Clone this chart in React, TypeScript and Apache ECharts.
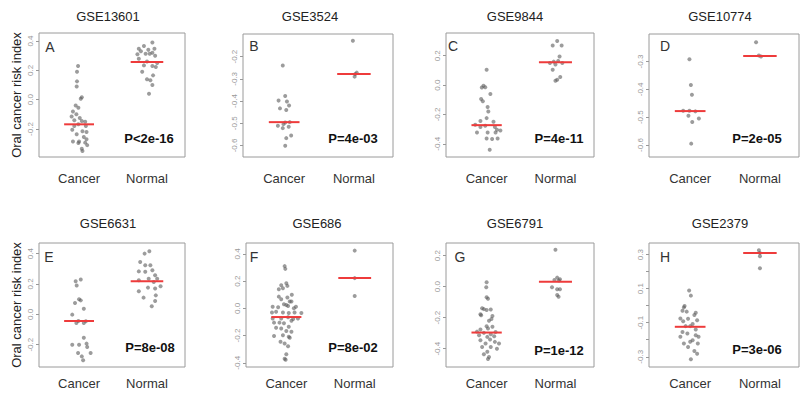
import React, { useEffect, useRef } from 'react';
import * as echarts from 'echarts';

const FONT = '"Liberation Sans", Arial, Helvetica, sans-serif';

const categories = ['Cancer', 'Normal'];
const titles = ['GSE13601', 'GSE3524', 'GSE9844', 'GSE10774', 'GSE6631', 'GSE686', 'GSE6791', 'GSE2379'];
const letters = ['A', 'B', 'C', 'D', 'E', 'F', 'G', 'H'];
const pValues = ['P<2e-16', 'P=4e-03', 'P=4e-11', 'P=2e-05', 'P=8e-08', 'P=8e-02', 'P=1e-12', 'P=3e-06'];

// medians [cancer, normal]
const medians = [
  [-0.168, 0.257],
  [-0.495, -0.278],
  [-0.273, 0.155],
  [-0.478, -0.28],
  [-0.044, 0.218],
  [-0.064, 0.222],
  [-0.296, 0.032],
  [-0.124, 0.309],
];

// y axis ranges [min, max]
const yRanges = [
  [-0.391, 0.455],
  [-0.652, -0.098],
  [-0.49, 0.355],
  [-0.643, -0.201],
  [-0.347, 0.47],
  [-0.431, 0.48],
  [-0.518, 0.281],
  [-0.36, 0.368],
];

const yTicks = [
  [-0.2, 0, 0.2, 0.4],
  [-0.6, -0.5, -0.4, -0.3, -0.2],
  [-0.4, -0.2, 0, 0.2],
  [-0.6, -0.5, -0.4, -0.3],
  [-0.2, 0, 0.2, 0.4],
  [-0.4, -0.2, 0, 0.2, 0.4],
  [-0.4, -0.2, 0, 0.2],
  [-0.3, -0.2, -0.1, 0, 0.1, 0.2, 0.3],
];
const yTickLabels = [
  [-0.2, 0, 0.2, 0.4],
  [-0.6, -0.5, -0.4, -0.3, -0.2],
  [-0.4, -0.2, 0, 0.2],
  [-0.6, -0.5, -0.4, -0.3],
  [-0.2, 0, 0.2, 0.4],
  [-0.4, -0.2, 0, 0.2, 0.4],
  [-0.4, -0.2, 0, 0.2],
  [-0.3, -0.1, 0.1, 0.3],
];

// points: [jitter offset, risk index]
const cancerA = [[-0.015,0.23],[-0.03,0.19],[-0.03,0.125],[-0.035,0.09],[0.04,0.016],[0.025,0.007],[-0.05,-0.04],[-0.01,-0.055],[-0.09,-0.08],[-0.04,-0.1],[-0.11,-0.115],[0.01,-0.125],[-0.07,-0.14],[0.04,-0.145],[0.09,-0.15],[-0.01,-0.168],[-0.07,-0.18],[0.1,-0.18],[-0.1,-0.205],[0.05,-0.215],[0.11,-0.22],[-0.035,-0.236],[0.07,-0.255],[0.11,-0.27],[-0.09,-0.285],[0,-0.285],[0.09,-0.293],[-0.01,-0.295],[0.12,-0.31],[0.04,-0.335],[0.05,-0.35]];
const normalA = [[0.08,0.39],[-0.045,0.366],[-0.12,0.348],[0.02,0.34],[0.11,0.348],[-0.09,0.33],[0.08,0.32],[-0.02,0.314],[-0.14,0.31],[0.04,0.314],[0.12,0.3],[-0.12,0.28],[0,0.26],[0.15,0.25],[-0.045,0.234],[0.08,0.23],[0.13,0.223],[-0.07,0.19],[0.09,0.166],[0,0.14],[0.05,0.132],[0.08,0.1],[0.03,0.04]];
const cancerB = [[-0.02,-0.24],[0.015,-0.377],[-0.08,-0.398],[0.04,-0.402],[0.07,-0.42],[-0.06,-0.433],[0.03,-0.44],[0.015,-0.497],[0.08,-0.495],[-0.01,-0.504],[-0.09,-0.511],[-0.02,-0.522],[0.065,-0.516],[0.1,-0.555],[0.03,-0.567],[0.015,-0.601]];
const normalB = [[-0.015,-0.128],[0.02,-0.278],[0.04,-0.272],[0.01,-0.29]];
const cancerC = [[0,0.105],[-0.045,-0.005],[-0.07,-0.016],[-0.02,-0.014],[0.055,-0.06],[-0.08,-0.095],[-0.055,-0.11],[0.015,-0.15],[0.025,-0.18],[0,-0.225],[-0.09,-0.245],[0.1,-0.25],[-0.165,-0.27],[-0.02,-0.277],[-0.09,-0.286],[0.12,-0.286],[0.15,-0.305],[0.2,-0.31],[-0.14,-0.323],[0.015,-0.323],[0.13,-0.323],[0,-0.364],[0.08,-0.368],[0.16,-0.364],[0.045,-0.44]];
const normalC = [[0.025,0.3],[-0.04,0.27],[0.09,0.27],[0.06,0.195],[0.04,0.165],[-0.025,0.16],[-0.08,0.15],[0.1,0.15],[0,0.14],[-0.04,0.105],[0.07,0.055],[0.025,0.036],[0,0.03]];
const cancerD = [[-0.01,-0.292],[0.01,-0.384],[0.025,-0.419],[-0.1,-0.477],[-0.01,-0.477],[0.075,-0.479],[-0.025,-0.495],[0.125,-0.505],[0.03,-0.517],[0.015,-0.595]];
const normalD = [[-0.055,-0.231],[0.015,-0.282],[-0.015,-0.278]];
const cancerE = [[-0.05,0.218],[0.025,0.229],[-0.035,0.19],[0,0.1],[0.025,0.092],[-0.06,0.075],[0.07,0.037],[-0.1,-0.002],[-0.01,-0.044],[-0.04,-0.057],[0.07,-0.057],[0.1,-0.046],[0.07,-0.154],[-0.1,-0.2],[0,-0.2],[0.11,-0.193],[0.12,-0.215],[-0.015,-0.255],[0.17,-0.255],[0.04,-0.277],[0.06,-0.303]];
const normalE = [[-0.035,0.4],[0.035,0.415],[-0.1,0.345],[0.05,0.323],[-0.025,0.323],[0.08,0.29],[-0.12,0.283],[-0.025,0.28],[0.12,0.257],[0.025,0.235],[-0.12,0.224],[0.15,0.235],[0.1,0.213],[0.2,0.185],[-0.12,0.152],[0.015,0.176],[0.12,0.17],[-0.05,0.11],[0.13,0.125],[0.12,0.088],[0.07,0.053]];
const cancerF = [[-0.025,0.31],[-0.015,0.29],[-0.075,0.17],[0,0.185],[0.015,0.165],[-0.11,0.14],[-0.05,0.148],[0.08,0.1],[-0.11,0.086],[0.015,0.08],[-0.075,0.066],[0.05,0.05],[-0.035,0.03],[0,0.025],[0.075,0.05],[0.14,0.012],[-0.2,0.012],[-0.12,0.008],[0.025,0.017],[0.11,0],[-0.21,-0.03],[-0.15,-0.025],[-0.05,-0.03],[0.035,-0.035],[0.12,-0.03],[0.22,-0.035],[-0.2,-0.074],[-0.075,-0.074],[0.025,-0.066],[0.1,-0.079],[0.17,-0.074],[-0.18,-0.105],[-0.1,-0.105],[-0.035,-0.11],[0.075,-0.091],[-0.15,-0.143],[0.035,-0.135],[-0.075,-0.148],[0.075,-0.172],[0,-0.167],[-0.18,-0.204],[-0.05,-0.197],[0.035,-0.209],[0.05,-0.216],[-0.085,-0.246],[-0.025,-0.258],[0.025,-0.278],[0,-0.338],[-0.025,-0.37],[-0.01,-0.378]];
const normalF = [[0,0.424],[0,0.222],[0,0.091]];
const cancerG = [[0,0.028],[-0.005,-0.004],[0,-0.069],[0.02,-0.078],[-0.065,-0.14],[-0.04,-0.145],[0,-0.151],[0.06,-0.147],[-0.08,-0.184],[-0.09,-0.178],[0.085,-0.19],[0.035,-0.22],[0.07,-0.209],[0,-0.255],[0.085,-0.259],[-0.09,-0.276],[0.02,-0.27],[-0.14,-0.29],[-0.04,-0.298],[0.06,-0.307],[0.13,-0.292],[-0.11,-0.313],[0.01,-0.324],[0.11,-0.32],[0.05,-0.341],[-0.09,-0.346],[0.12,-0.356],[0.18,-0.367],[-0.015,-0.367],[-0.065,-0.389],[0.06,-0.389],[0.15,-0.4],[0.01,-0.42],[-0.04,-0.436],[0.035,-0.454],[0.02,-0.467]];
const normalG = [[0,0.238],[0.025,0.058],[0.065,0.048],[-0.015,0.043],[0.05,0.04],[-0.05,-0.004],[0.025,-0.017],[0.065,-0.017],[0.025,-0.054],[0.045,-0.065]];
const cancerH = [[-0.015,0.089],[0.01,0.059],[-0.08,-0.002],[-0.09,-0.01],[-0.11,-0.03],[-0.05,-0.035],[0.08,-0.041],[0.06,-0.055],[-0.14,-0.075],[-0.03,-0.077],[0.1,-0.085],[-0.1,-0.092],[0.035,-0.108],[-0.065,-0.12],[0,-0.12],[0.08,-0.14],[-0.11,-0.154],[-0.04,-0.163],[0.08,-0.173],[0.12,-0.183],[-0.14,-0.183],[0.035,-0.203],[-0.09,-0.222],[0,-0.212],[0.11,-0.222],[-0.03,-0.242],[0.06,-0.266],[0.1,-0.282],[0.01,-0.315]];
const normalH = [[-0.015,0.325],[0,0.309],[0,0.29],[0,0.22]];

const cancerPoints = [cancerA, cancerB, cancerC, cancerD, cancerE, cancerF, cancerG, cancerH];
const normalPoints = [normalA, normalB, normalC, normalD, normalE, normalF, normalG, normalH];

// layout: plot boxes [left, top, width, height]
const boxes = [
  [39, 33, 146, 124],
  [243, 34, 150, 123],
  [446, 33, 148, 124],
  [649, 34, 150, 123],
  [39, 243, 146, 124],
  [246, 243, 147, 124],
  [446, 243, 148, 124],
  [649, 243, 150, 124],
];
const titlePos = [[108, 16], [310, 16], [515, 16], [720, 16], [108, 223], [317, 223], [515, 223], [720, 223]];
const letterPos = [[50, 47], [254, 46], [453, 46], [665, 46], [49, 257], [254, 257], [460, 257], [665, 257]];
const pPos = [[149, 138], [353, 138], [559, 138], [757, 138], [150, 347], [353, 347], [559, 350], [757, 349]];
const X_MIN = 0.41;
const X_MAX = 2.56;

function fmt(v: number) {
  if (Math.abs(v) < 1e-9) return '0.0';
  return v.toFixed(1);
}

function buildOption() {
  const grid: any[] = [];
  const xAxis: any[] = [];
  const yAxis: any[] = [];
  const series: any[] = [];
  const graphic: any[] = [];
  for (let i = 0; i < 8; i++) {
    const [l, t, w, h] = boxes[i];
    const bottomRow = i >= 4;
    grid.push({
      left: l, top: t, width: w, height: h,
      show: true, borderColor: '#9a9a9a', borderWidth: 1, backgroundColor: 'transparent',
      containLabel: false, outerBoundsMode: 'none',
    });
    xAxis.push({
      type: 'value', gridIndex: i, min: X_MIN, max: X_MAX,
      axisLine: { show: false }, axisTick: { show: false }, splitLine: { show: false },
      axisLabel: {
        customValues: [1, 2], margin: bottomRow ? 10 : 15,
        fontSize: 13, color: '#333', fontFamily: FONT,
        formatter: (v: number) => categories[Math.round(v) - 1] || '',
      },
    });
    yAxis.push({
      type: 'value', gridIndex: i, min: yRanges[i][0], max: yRanges[i][1],
      name: i === 0 || i === 4 ? 'Oral cancer risk index' : '',
      nameLocation: 'middle', nameGap: 16, nameRotate: 90,
      nameTextStyle: { fontSize: 13, color: '#222', fontFamily: FONT },
      axisLine: { show: false }, splitLine: { show: false },
      axisTick: { show: true, customValues: yTicks[i], length: 3, lineStyle: { color: '#999' } },
      axisLabel: {
        customValues: yTickLabels[i], rotate: 90, fontSize: 8, color: '#999', margin: 5,
        fontFamily: FONT, formatter: (v: number) => fmt(v),
      },
    });
    const pointStyle = { color: 'rgba(90,90,90,0.75)' };
    series.push({
      type: 'scatter', xAxisIndex: i, yAxisIndex: i, symbolSize: 4, itemStyle: pointStyle,
      data: cancerPoints[i].map(([dx, v]) => [1 + dx, v]), z: 2,
    });
    series.push({
      type: 'scatter', xAxisIndex: i, yAxisIndex: i, symbolSize: 4, itemStyle: pointStyle,
      data: normalPoints[i].map(([dx, v]) => [2 + dx, v]), z: 2,
    });
    series.push({
      type: 'line', xAxisIndex: i, yAxisIndex: i, symbol: 'none', z: 3,
      lineStyle: { color: '#ee3b3b', width: 2 },
      data: [[1 - 0.22, medians[i][0]], [1 + 0.22, medians[i][0]]],
    });
    series.push({
      type: 'line', xAxisIndex: i, yAxisIndex: i, symbol: 'none', z: 3,
      lineStyle: { color: '#ee3b3b', width: 2 },
      data: [[2 - 0.24, medians[i][1]], [2 + 0.24, medians[i][1]]],
    });
    graphic.push({
      type: 'text', x: titlePos[i][0], y: titlePos[i][1],
      style: { text: titles[i], fontSize: 13, fill: '#222', fontFamily: FONT, align: 'center', verticalAlign: 'middle' },
    });
    graphic.push({
      type: 'text', x: letterPos[i][0], y: letterPos[i][1],
      style: { text: letters[i], fontSize: 14, fill: '#333', fontFamily: FONT, align: 'center', verticalAlign: 'middle' },
    });
    graphic.push({
      type: 'text', x: pPos[i][0], y: pPos[i][1],
      style: { text: pValues[i], fontSize: 13, fontWeight: 'bold', fill: '#111', fontFamily: FONT, align: 'center', verticalAlign: 'middle' },
    });
  }
  return {
    animation: false,
    backgroundColor: '#ffffff',
    grid, xAxis, yAxis, series, graphic,
  };
}

export default function App() {
  const ref = useRef<HTMLDivElement>(null);
  useEffect(() => {
    const chart = echarts.init(ref.current!, null, { renderer: 'svg' });
    chart.setOption(buildOption() as any);
    return () => chart.dispose();
  }, []);
  return <div ref={ref} style={{ position: 'absolute', left: 0, top: 0, width: 800, height: 400 }} />;
}
